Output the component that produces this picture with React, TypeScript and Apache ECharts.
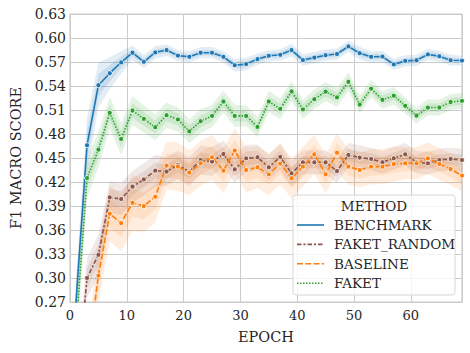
import React, { useEffect, useRef } from "react";
import * as echarts from "echarts";

const epochs = [1, 3, 5, 7, 9, 11, 13, 15, 17, 19, 21, 23, 25, 27, 29, 31, 33, 35, 37, 39, 41, 43, 45, 47, 49, 51, 53, 55, 57, 59, 61, 63, 65, 67, 69];

const methods = ["BENCHMARK", "FAKET_RANDOM", "BASELINE", "FAKET"];

const benchmark = [0.265, 0.466, 0.541, 0.556, 0.5695, 0.5816, 0.5703, 0.582, 0.5849, 0.578, 0.5765, 0.5816, 0.5816, 0.5765, 0.566, 0.5674, 0.5736, 0.5778, 0.579, 0.5849, 0.5724, 0.5755, 0.5785, 0.58, 0.5895, 0.581, 0.5765, 0.5768, 0.567, 0.5714, 0.5722, 0.5795, 0.5772, 0.5722, 0.5718];
const faketRandom = [0.15, 0.3, 0.329, 0.4008, 0.3987, 0.4142, 0.4233, 0.4342, 0.433, 0.4413, 0.433, 0.4475, 0.4455, 0.455, 0.4358, 0.4496, 0.4509, 0.4384, 0.4513, 0.4308, 0.4446, 0.4446, 0.4446, 0.4337, 0.4538, 0.4505, 0.4488, 0.4446, 0.4496, 0.4546, 0.4446, 0.4434, 0.4475, 0.4488, 0.4475];
const baseline = [0.13, 0.193, 0.303, 0.3803, 0.3686, 0.3941, 0.3899, 0.4016, 0.4405, 0.4392, 0.4317, 0.4434, 0.4509, 0.4342, 0.4593, 0.435, 0.4384, 0.4296, 0.443, 0.4246, 0.4392, 0.4546, 0.4296, 0.4567, 0.4392, 0.435, 0.4392, 0.4392, 0.4425, 0.4434, 0.4434, 0.4496, 0.4425, 0.4362, 0.428];
const faket = [0.23, 0.425, 0.4605, 0.5064, 0.4738, 0.5094, 0.4989, 0.4885, 0.5035, 0.4981, 0.4834, 0.496, 0.5026, 0.5206, 0.5026, 0.5026, 0.4889, 0.5206, 0.5114, 0.5332, 0.5108, 0.5235, 0.533, 0.5258, 0.5452, 0.5168, 0.5367, 0.5227, 0.5279, 0.5152, 0.503, 0.513, 0.5131, 0.52, 0.5214];

// half-widths of the shaded confidence bands
const benchmarkSpread = [0.03, 0.035, 0.028, 0.02, 0.014, 0.009, 0.008, 0.008, 0.007, 0.007, 0.007, 0.007, 0.007, 0.007, 0.008, 0.008, 0.007, 0.007, 0.007, 0.008, 0.007, 0.007, 0.007, 0.007, 0.007, 0.008, 0.007, 0.007, 0.007, 0.007, 0.007, 0.007, 0.007, 0.007, 0.006];
const faketRandomSpread = [0.025, 0.025, 0.025, 0.02, 0.02, 0.02, 0.02, 0.02, 0.018, 0.018, 0.018, 0.018, 0.018, 0.017, 0.017, 0.017, 0.016, 0.016, 0.016, 0.016, 0.015, 0.015, 0.015, 0.015, 0.015, 0.015, 0.014, 0.014, 0.014, 0.014, 0.014, 0.014, 0.014, 0.014, 0.014];
const baselineSpread = [0.03, 0.03, 0.035, 0.035, 0.035, 0.035, 0.033, 0.032, 0.03, 0.03, 0.028, 0.028, 0.028, 0.028, 0.028, 0.028, 0.026, 0.026, 0.026, 0.025, 0.025, 0.024, 0.024, 0.024, 0.022, 0.022, 0.022, 0.022, 0.022, 0.02, 0.02, 0.02, 0.02, 0.02, 0.02];
const faketSpread = [0.03, 0.025, 0.022, 0.02, 0.02, 0.018, 0.017, 0.016, 0.016, 0.015, 0.015, 0.015, 0.014, 0.014, 0.014, 0.013, 0.013, 0.013, 0.013, 0.013, 0.012, 0.012, 0.012, 0.012, 0.012, 0.011, 0.011, 0.011, 0.011, 0.01, 0.01, 0.01, 0.01, 0.01, 0.01];

const yTicks = [0.27, 0.3, 0.33, 0.36, 0.39, 0.42, 0.45, 0.48, 0.51, 0.54, 0.57, 0.6, 0.63];

const colors = ["#1f77b4", "#8c564b", "#ff7f0e", "#2ca02c"];
const dashes: any[] = ["solid", [4.5, 1.9, 2.2, 1.9], [6, 2.25], [1.5, 1.5]];
const values = [benchmark, faketRandom, baseline, faket];
const spreads = [benchmarkSpread, faketRandomSpread, baselineSpread, faketSpread];

const FONT = "DejaVu Serif";
const TEXT = "#262626";

function hexA(hex: string, a: number) {
  const r = parseInt(hex.slice(1, 3), 16);
  const g = parseInt(hex.slice(3, 5), 16);
  const b = parseInt(hex.slice(5, 7), 16);
  return `rgba(${r},${g},${b},${a})`;
}

export default function App() {
  const ref = useRef<HTMLDivElement>(null);
  useEffect(() => {
    if (!ref.current) return;
    const chart = echarts.init(ref.current, undefined, { renderer: "svg" });
    const series: any[] = [];
    // confidence bands drawn as polygons through the axes' scales
    methods.forEach((m, k) => {
      [1, 0.5].forEach((f) => {
        series.push({
          type: "custom",
          silent: true,
          clip: true,
          z: 1,
          data: epochs.map((e, i) => [e, values[k][i] - spreads[k][i] * f, values[k][i] + spreads[k][i] * f]),
          encode: { x: 0, y: [1, 2] },
          renderItem: (params: any, api: any) => {
            if (params.dataIndex !== 0) return null;
            const upper = epochs.map((e, i) => api.coord([e, values[k][i] + spreads[k][i] * f]));
            const lower = epochs.map((e, i) => api.coord([e, values[k][i] - spreads[k][i] * f])).reverse();
            return {
              type: "polygon",
              shape: { points: upper.concat(lower) },
              style: { fill: hexA(colors[k], 0.13), stroke: "none" },
            };
          },
        });
      });
    });
    methods.forEach((m, k) => {
      series.push({
        type: "line",
        name: m,
        data: epochs.map((e, i) => [e, values[k][i]]),
        symbol: "circle",
        symbolSize: 5,
        showSymbol: true,
        lineStyle: { color: colors[k], width: 1.6, type: dashes[k] },
        itemStyle: { color: colors[k], borderColor: "#ffffff", borderWidth: 0.8 },
        z: 3,
      });
    });

    const legendX = 293;
    const legendY = 195;
    const legendGraphics: any[] = [
      {
        type: "rect",
        shape: { x: legendX, y: legendY, width: 162, height: 100, r: 3 },
        style: { fill: "rgba(255,255,255,0.8)", stroke: "#d6d6d6", lineWidth: 1 },
        z: 10,
      },
      {
        type: "text",
        x: legendX + 81,
        y: 205.5,
        style: { text: "METHOD", font: `13.5px '${FONT}'`, fill: TEXT, align: "center", verticalAlign: "middle" },
        z: 11,
      },
    ];
    methods.forEach((m, k) => {
      const yy = 225 + k * 19.4;
      legendGraphics.push({
        type: "line",
        shape: { x1: 297, y1: yy, x2: 324, y2: yy },
        style: { stroke: colors[k], lineWidth: 1.6, lineDash: dashes[k] === "solid" ? null : dashes[k] },
        z: 11,
      });
      legendGraphics.push({
        type: "text",
        x: 334,
        y: yy,
        style: { text: m, font: `13.5px '${FONT}'`, fill: TEXT, align: "left", verticalAlign: "middle" },
        z: 11,
      });
    });

    chart.setOption({
      animation: false,
      backgroundColor: "#ffffff",
      grid: {
        left: 67,
        right: 8,
        top: 14,
        bottom: 51,
        show: true,
        backgroundColor: "#ffffff",
        borderColor: "#cccccc",
        borderWidth: 1.25,
        containLabel: false,
      },
      xAxis: {
        type: "value",
        min: 0,
        max: 69,
        interval: 10,
        name: "EPOCH",
        nameLocation: "middle",
        nameGap: 27,
        nameTextStyle: { fontFamily: FONT, fontSize: 14.5, color: TEXT },
        axisLine: { show: false },
        axisTick: { show: false },
        axisLabel: { fontFamily: FONT, fontSize: 13, color: TEXT, margin: 7, showMaxLabel: false },
        splitLine: { show: true, lineStyle: { color: "#cccccc", width: 1 } },
      },
      yAxis: {
        type: "value",
        min: yTicks[0],
        max: yTicks[yTicks.length - 1],
        interval: 0.03,
        name: "F1 MACRO SCORE",
        nameLocation: "middle",
        nameGap: 47,
        nameTextStyle: { fontFamily: FONT, fontSize: 14.5, color: TEXT },
        axisLine: { show: false },
        axisTick: { show: false },
        axisLabel: {
          fontFamily: FONT,
          fontSize: 14,
          color: TEXT,
          margin: 4,
          formatter: (v: number) => v.toFixed(2),
        },
        splitLine: { show: true, lineStyle: { color: "#cccccc", width: 1 } },
      },
      series,
      graphic: legendGraphics,
    });
    return () => chart.dispose();
  }, []);
  return <div ref={ref} style={{ width: 470, height: 353, position: "absolute", left: 0, top: 0 }} />;
}
